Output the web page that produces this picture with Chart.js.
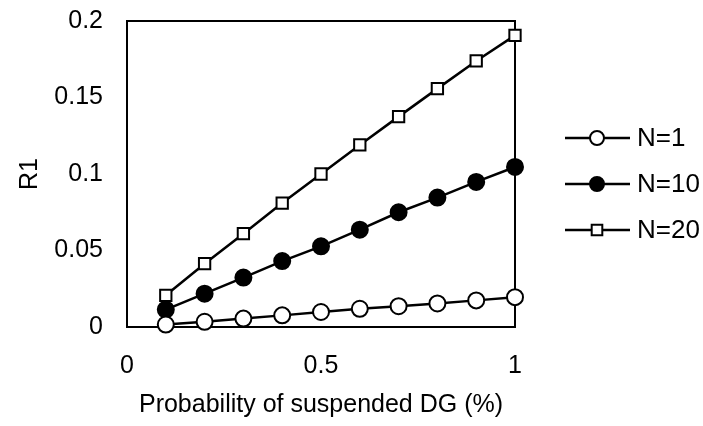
<!DOCTYPE html>
<html>
<head>
<meta charset="utf-8">
<title>R1 vs probability of suspended DG</title>
<script src="https://cdn.jsdelivr.net/npm/chart.js@4/dist/chart.umd.min.js"></script>
<style>
    html, body { margin: 0; padding: 0; background: #fff; }
    #wrap { width: 703px; height: 426px; }
</style>
</head>
<body>
<div id="wrap"><canvas id="r1Chart" width="703" height="426"></canvas></div>
<script>
// ─────────────────────────────────────────────
// DATA
// ─────────────────────────────────────────────
var probValues = [0.1, 0.2, 0.3, 0.4, 0.5, 0.6, 0.7, 0.8, 0.9, 1.0];
var r1N1  = [0.0016, 0.0034, 0.0055, 0.0076, 0.0098, 0.0119, 0.0136, 0.0154, 0.0174, 0.0195];
var r1N10 = [0.0114, 0.0218, 0.0323, 0.0431, 0.0527, 0.0636, 0.0750, 0.0846, 0.0948, 0.1046];
var r1N20 = [0.0207, 0.0414, 0.0610, 0.0810, 0.1000, 0.1190, 0.1375, 0.1558, 0.1739, 0.1906];
var seriesLabels = ['N=1', 'N=10', 'N=20'];
var xTicks = [0, 0.5, 1];
var yTicks = [0, 0.05, 0.1, 0.15, 0.2];

var FONT = 'Liberation Sans, Arial, sans-serif';

function toPoints(ys) {
    return ys.map(function (y, i) { return { x: probValues[i], y: y }; });
}

function fmt(v) { return String(+(+v).toFixed(2)); }

// marker styles per series
var markerStyles = [
    { pointStyle: 'circle', radius: 8, backgroundColor: '#ffffff' },
    { pointStyle: 'circle', radius: 8, backgroundColor: '#000000' },
    { pointStyle: 'rect',   radius: 8, backgroundColor: '#ffffff' }
];

function makeDataset(label, ys, idx) {
    var m = markerStyles[idx];
    return {
        label: label,
        data: toPoints(ys),
        borderColor: '#000',
        borderWidth: 2.5,
        pointStyle: m.pointStyle,
        pointRadius: m.radius,
        pointBackgroundColor: m.backgroundColor,
        pointBorderColor: '#000',
        pointBorderWidth: 2,
        clip: false,
        tension: 0
    };
}

// ─────────────────────────────────────────────
// PLUGINS: frame around the plot, hand drawn legend
// ─────────────────────────────────────────────
var frameBox = {
    id: 'frameBox',
    beforeDatasetsDraw: function (chart) {
        var a = chart.chartArea, ctx = chart.ctx;
        ctx.save();
        ctx.strokeStyle = '#000';
        ctx.lineWidth = 2;
        ctx.strokeRect(a.left, a.top, a.right - a.left, a.bottom - a.top);
        ctx.restore();
    }
};

var sideLegend = {
    id: 'sideLegend',
    afterDraw: function (chart) {
        var ctx = chart.ctx;
        var x0 = 565, x1 = 630, mx = 597, tx = 637;
        var rows = [138, 184, 230];
        ctx.save();
        chart.data.datasets.forEach(function (ds, i) {
            var y = rows[i];
            ctx.strokeStyle = '#000';
            ctx.lineWidth = 2.5;
            ctx.beginPath();
            ctx.moveTo(x0, y);
            ctx.lineTo(x1, y);
            ctx.stroke();
            ctx.fillStyle = ds.pointBackgroundColor;
            ctx.strokeStyle = '#000';
            ctx.lineWidth = 2;
            Chart.helpers.drawPoint(ctx, {
                pointStyle: ds.pointStyle,
                radius: ds.pointStyle === 'rect' ? 7.5 : 7,
                rotation: 0,
                borderWidth: 2
            }, mx, y);
            ctx.fillStyle = '#000';
            ctx.font = '26px ' + FONT;
            ctx.textAlign = 'left';
            ctx.textBaseline = 'middle';
            ctx.fillText(ds.label, tx, y + 1);
        });
        ctx.restore();
    }
};

// ─────────────────────────────────────────────
// CHART
// ─────────────────────────────────────────────
new Chart(document.getElementById('r1Chart').getContext('2d'), {
    type: 'line',
    data: {
        datasets: [
            makeDataset(seriesLabels[0], r1N1, 0),
            makeDataset(seriesLabels[1], r1N10, 1),
            makeDataset(seriesLabels[2], r1N20, 2)
        ]
    },
    options: {
        responsive: false,
        animation: false,
        layout: { padding: { left: 0, top: 21, right: 188, bottom: 0 } },
        plugins: {
            legend: { display: false },
            tooltip: { enabled: false }
        },
        scales: {
            x: {
                type: 'linear',
                min: 0,
                max: 1,
                afterFit: function (s) {
                    s.height = 99;
                    s.paddingLeft = 0;
                    s.paddingRight = 0;
                },
                afterBuildTicks: function (s) {
                    s.ticks = xTicks.map(function (v) { return { value: v }; });
                },
                grid: { display: false, drawTicks: false },
                border: { display: false },
                ticks: {
                    color: '#000',
                    padding: 24,
                    maxRotation: 0,
                    font: { family: FONT, size: 25 },
                    callback: fmt
                },
                title: {
                    display: true,
                    text: 'Probability of suspended DG (%)',
                    color: '#000',
                    padding: { top: 0, bottom: 6 },
                    font: { family: FONT, size: 25 }
                }
            },
            y: {
                min: 0,
                max: 0.2,
                afterFit: function (s) {
                    s.width = 127;
                    s.paddingTop = 0;
                    s.paddingBottom = 0;
                },
                afterBuildTicks: function (s) {
                    s.ticks = yTicks.map(function (v) { return { value: v }; });
                },
                grid: { display: false, drawTicks: false },
                border: { display: false },
                ticks: {
                    color: '#000',
                    padding: 24,
                    font: { family: FONT, size: 25 },
                    callback: fmt
                },
                title: {
                    display: true,
                    text: 'R1',
                    color: '#000',
                    padding: { top: 15, bottom: 0 },
                    font: { family: FONT, size: 25 }
                }
            }
        }
    },
    plugins: [frameBox, sideLegend]
});
</script>
</body>
</html>
